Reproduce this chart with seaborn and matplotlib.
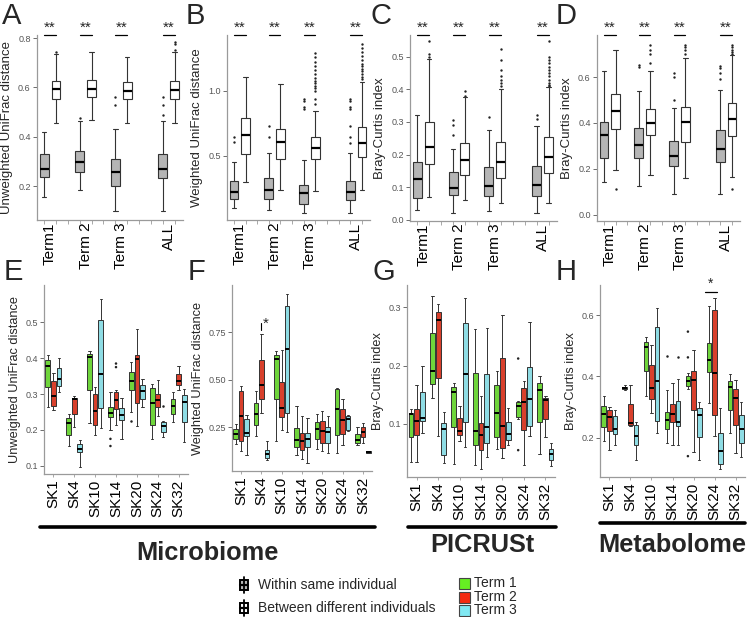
import numpy as np
import pandas as pd
import matplotlib.pyplot as plt
import seaborn as sns
from matplotlib.lines import Line2D
from matplotlib.patches import Rectangle

# ---- categories ----
groups = ['Term1', 'Term 2', 'Term 3', 'ALL']
subjects = ['SK1', 'SK4', 'SK10', 'SK14', 'SK20', 'SK24', 'SK32']
terms = ['Term 1', 'Term 2', 'Term 3']
term_colors = ['#66ee22', '#f42a10', '#80e8f2']
kind_labels = ['Within same individual', 'Between different individuals']
kind_colors = ['#b5b5b5', 'white']

# ---- top row: five-number summaries (whisker low, q1, median, q3, whisker high) ----
A_within = [[0.155, 0.235, 0.268, 0.328, 0.42], [0.185, 0.255, 0.297, 0.342, 0.462],
            [0.10, 0.198, 0.256, 0.31, 0.43], [0.10, 0.232, 0.268, 0.328, 0.462]]
A_between = [[0.455, 0.553, 0.592, 0.628, 0.735], [0.468, 0.56, 0.595, 0.632, 0.742],
             [0.455, 0.553, 0.585, 0.622, 0.725], [0.455, 0.555, 0.59, 0.628, 0.742]]
A_within_out = [[], [0.475], [0.53, 0.56], [0.49, 0.53, 0.56]]
A_between_out = [[0.745], [], [], [0.752, 0.777, 0.786]]

B_within = [[0.098, 0.169, 0.225, 0.308, 0.454], [0.085, 0.169, 0.238, 0.328, 0.525],
            [0.059, 0.131, 0.218, 0.277, 0.47], [0.063, 0.162, 0.225, 0.31, 0.525]]
B_between = [[0.297, 0.515, 0.66, 0.79, 1.11], [0.238, 0.474, 0.61, 0.705, 1.05],
             [0.231, 0.474, 0.559, 0.649, 0.846], [0.24, 0.49, 0.6, 0.725, 1.07]]
B_within_out = [[0.61, 0.649], [0.649, 0.73], [0.86, 0.879, 0.92, 0.938],
                [0.6, 0.649, 0.73, 0.86, 0.879, 0.92, 0.938]]
B_between_out = [[], [],
                 [0.9, 0.94, 1.0, 1.02, 1.04, 1.06, 1.08, 1.1, 1.13, 1.16, 1.19, 1.22, 1.26, 1.29],
                 [1.09, 1.11, 1.13, 1.15, 1.17, 1.19, 1.21, 1.24, 1.27, 1.3, 1.33, 1.36]]

C_within = [[0.03, 0.067, 0.126, 0.178, 0.32], [0.021, 0.075, 0.096, 0.146, 0.218],
            [0.027, 0.072, 0.103, 0.162, 0.276], [0.021, 0.072, 0.108, 0.166, 0.287]]
C_between = [[0.07, 0.17, 0.222, 0.3, 0.494], [0.06, 0.136, 0.182, 0.234, 0.376],
             [0.052, 0.128, 0.178, 0.238, 0.4], [0.052, 0.143, 0.192, 0.253, 0.407]]
C_within_out = [[], [0.26, 0.29, 0.305], [0.315], [0.31, 0.32]]
C_between_out = [[0.5, 0.51, 0.55], [0.38, 0.395], [0.41, 0.42, 0.43, 0.44, 0.46, 0.49, 0.525],
                 [0.41, 0.415, 0.42, 0.43, 0.44, 0.45, 0.46, 0.47, 0.48, 0.49, 0.5, 0.55]]

D_within = [[0.142, 0.247, 0.349, 0.403, 0.628], [0.124, 0.247, 0.305, 0.38, 0.54],
            [0.089, 0.21, 0.254, 0.32, 0.466], [0.089, 0.229, 0.285, 0.371, 0.546]]
D_between = [[0.196, 0.372, 0.451, 0.526, 0.718], [0.174, 0.346, 0.4, 0.463, 0.628],
             [0.161, 0.317, 0.403, 0.47, 0.682], [0.166, 0.342, 0.416, 0.488, 0.696]]
D_within_out = [[], [0.645, 0.655], [0.5, 0.6, 0.62], [0.59, 0.62, 0.64, 0.65]]
D_between_out = [[0.11], [0.66, 0.7, 0.72, 0.74], [0.7, 0.72, 0.73, 0.74],
                 [0.11, 0.7, 0.71, 0.72, 0.73, 0.74]]

# ---- bottom row: per subject, per term ----
E_term1 = [[0.263, 0.32, 0.378, 0.395, 0.41], [0.155, 0.186, 0.218, 0.232, 0.245],
           [0.218, 0.31, 0.404, 0.412, 0.42], [0.2, 0.235, 0.248, 0.265, 0.307],
           [0.25, 0.312, 0.335, 0.362, 0.39], [0.175, 0.214, 0.274, 0.318, 0.328],
           [0.222, 0.245, 0.267, 0.285, 0.305]]
E_term2 = [[0.255, 0.268, 0.294, 0.336, 0.358], [0.208, 0.245, 0.285, 0.288, 0.295],
           [0.186, 0.213, 0.253, 0.3, 0.32], [0.215, 0.257, 0.282, 0.305, 0.31],
           [0.21, 0.276, 0.398, 0.41, 0.48], [0.238, 0.265, 0.283, 0.3, 0.34],
           [0.31, 0.325, 0.336, 0.357, 0.377]]
E_term3 = [[0.305, 0.322, 0.342, 0.373, 0.4], [0.097, 0.137, 0.148, 0.162, 0.172],
           [0.205, 0.26, 0.355, 0.507, 0.565], [0.175, 0.228, 0.242, 0.262, 0.288],
           [0.265, 0.287, 0.308, 0.325, 0.342], [0.18, 0.195, 0.21, 0.223, 0.225],
           [0.165, 0.222, 0.278, 0.296, 0.315]]
E_out = [('SK14', 'Term 1', 0.175), ('SK14', 'Term 1', 0.155), ('SK14', 'Term 2', 0.375),
         ('SK14', 'Term 2', 0.385), ('SK20', 'Term 1', 0.226), ('SK24', 'Term 3', 0.267)]

F_term1 = [[0.16, 0.19, 0.215, 0.24, 0.265], [0.207, 0.264, 0.322, 0.379, 0.44],
           [0.18, 0.397, 0.608, 0.63, 0.653], [0.102, 0.149, 0.185, 0.246, 0.361],
           [0.135, 0.188, 0.241, 0.276, 0.322], [0.117, 0.211, 0.347, 0.453, 0.458],
           [0.158, 0.167, 0.181, 0.215, 0.25]]
F_term2 = [[0.123, 0.176, 0.308, 0.44, 0.47], [0.326, 0.4, 0.472, 0.605, 0.741],
           [0.238, 0.303, 0.352, 0.488, 0.656], [0.082, 0.132, 0.18, 0.22, 0.312],
           [0.123, 0.17, 0.232, 0.285, 0.335], [0.158, 0.216, 0.287, 0.347, 0.397],
           [0.167, 0.197, 0.223, 0.25, 0.273]]
F_term3 = [[0.105, 0.202, 0.22, 0.294, 0.317], [0.078, 0.087, 0.108, 0.132, 0.18],
           [0.223, 0.326, 0.665, 0.891, 0.953], [0.061, 0.144, 0.19, 0.22, 0.3],
           [0.114, 0.17, 0.223, 0.252, 0.308], [0.229, 0.234, 0.294, 0.308, 0.317],
           [0.114, 0.116, 0.121, 0.126, 0.128]]
F_out = []

G_term1 = [[0.035, 0.077, 0.117, 0.119, 0.125], [0.144, 0.168, 0.191, 0.255, 0.319],
           [0.031, 0.094, 0.155, 0.163, 0.17], [0.03, 0.064, 0.087, 0.188, 0.262],
           [0.057, 0.077, 0.118, 0.167, 0.19], [0.108, 0.111, 0.13, 0.138, 0.14],
           [0.049, 0.103, 0.158, 0.17, 0.182]]
G_term2 = [[0.034, 0.081, 0.105, 0.125, 0.167], [0.079, 0.178, 0.278, 0.291, 0.306],
           [0.071, 0.081, 0.088, 0.11, 0.13], [0.022, 0.055, 0.081, 0.101, 0.148],
           [0.041, 0.058, 0.096, 0.213, 0.287], [0.03, 0.089, 0.138, 0.161, 0.173],
           [0.078, 0.108, 0.141, 0.144, 0.148]]
G_term3 = [[0.085, 0.105, 0.11, 0.155, 0.199], [0.033, 0.047, 0.091, 0.101, 0.121],
           [0.06, 0.104, 0.186, 0.273, 0.315], [0.043, 0.068, 0.095, 0.186, 0.264],
           [0.064, 0.073, 0.083, 0.104, 0.127], [0.079, 0.097, 0.142, 0.198, 0.274],
           [0.027, 0.038, 0.049, 0.057, 0.068]]
G_out = [('SK24', 'Term 1', 0.212), ('SK24', 'Term 1', 0.055)]

H_term1 = [[0.19, 0.234, 0.277, 0.304, 0.336], [0.355, 0.358, 0.363, 0.366, 0.372],
           [0.336, 0.417, 0.497, 0.513, 0.527], [0.184, 0.227, 0.258, 0.285, 0.355],
           [0.358, 0.368, 0.386, 0.401, 0.41], [0.312, 0.415, 0.455, 0.508, 0.629],
           [0.216, 0.29, 0.364, 0.386, 0.408]]
H_term2 = [[0.16, 0.223, 0.268, 0.292, 0.301], [0.238, 0.241, 0.247, 0.309, 0.372],
           [0.281, 0.325, 0.363, 0.437, 0.502], [0.176, 0.252, 0.277, 0.309, 0.379],
           [0.154, 0.292, 0.388, 0.417, 0.486], [0.205, 0.274, 0.412, 0.618, 0.654],
           [0.151, 0.241, 0.328, 0.358, 0.388]]
H_term3 = [[0.176, 0.212, 0.23, 0.272, 0.292], [0.129, 0.176, 0.207, 0.241, 0.252],
           [0.214, 0.255, 0.386, 0.562, 0.622], [0.176, 0.238, 0.252, 0.32, 0.39],
           [0.129, 0.203, 0.274, 0.296, 0.317], [0.097, 0.116, 0.158, 0.216, 0.296],
           [0.136, 0.184, 0.23, 0.274, 0.317]]
H_out = [('SK14', 'Term 1', 0.467), ('SK14', 'Term 3', 0.463), ('SK20', 'Term 1', 0.546),
         ('SK20', 'Term 1', 0.462), ('SK20', 'Term 1', 0.14)]

# ---- layout ----
W, H = 750, 617
top_base = [0, 3, 6, 10]  # x slot of each group pair


def rect(l, r, t, b):
    return [l / W, 1 - b / H, (r - l) / W, (b - t) / H]


def fx(x):
    return x / W


def fy(y):
    return 1 - y / H


sns.set_style('ticks')
plt.rcParams['font.family'] = ['Liberation Sans', 'DejaVu Sans']

fig = plt.figure(figsize=(7.5, 6.17), dpi=100)

EDGE = '#333333'
SPINE = '#9a9a9a'


def style_axes(ax):
    sns.despine(ax=ax)
    for s in ['left', 'bottom']:
        ax.spines[s].set_color(SPINE)
        ax.spines[s].set_linewidth(0.9)
    ax.tick_params(axis='y', colors='#555555', labelsize=6.5, length=3, width=0.6, pad=1.5)
    ax.tick_params(axis='x', colors=SPINE, labelcolor='black', labelsize=11, pad=2)


def top_panel(ax, within, between, w_out, b_out, ylim, yticks, ylabel, fmt):
    rows, out = [], []
    for i, g in enumerate(groups):
        rows += [(top_base[i], 'within', v) for v in within[i]]
        rows += [(top_base[i] + 1, 'between', v) for v in between[i]]
        out += [(top_base[i], v) for v in w_out[i]]
        out += [(top_base[i] + 1, v) for v in b_out[i]]
    df = pd.DataFrame(rows, columns=['pos', 'kind', 'val'])
    sns.boxplot(data=df, x='pos', y='val', hue='kind', native_scale=True, dodge=False,
                width=0.75, whis=(0, 100),
                palette={'within': kind_colors[0], 'between': kind_colors[1]},
                linecolor=EDGE, linewidth=0.8, legend=False, ax=ax,
                medianprops=dict(color='black', linewidth=1.6))
    if out:
        odf = pd.DataFrame(out, columns=['pos', 'val'])
        sns.scatterplot(data=odf, x='pos', y='val', color='#222222', s=3, linewidth=0,
                        legend=False, ax=ax)
    ax.set_xlim(-0.6, 11.7)
    ax.set_ylim(*ylim)
    ax.set_yticks(yticks)
    ax.set_yticklabels([fmt.format(t) for t in yticks])
    ax.set_xticks([b + 0.5 for b in top_base])
    ax.set_xticklabels(groups, rotation=90)
    ax.set_xticks(np.arange(0, 12), minor=True)
    ax.set_xlabel('')
    ax.set_ylabel(ylabel, fontsize=9.5, labelpad=4)
    style_axes(ax)
    ax.tick_params(axis='x', which='major', length=0)
    ax.tick_params(axis='x', which='minor', length=3, width=0.6, colors=SPINE)
    tr = ax.get_xaxis_transform()
    for b in top_base:
        ax.plot([b, b + 1], [1.0, 1.0], color='black', lw=0.9, transform=tr, clip_on=False)
        ax.text(b + 0.5, 1.0, '**', transform=tr, ha='center', va='bottom',
                fontsize=11, clip_on=False)


def bottom_panel(ax, t1, t2, t3, out, ylim, yticks, ylabel, fmt):
    rows = []
    for tname, data in zip(terms, [t1, t2, t3]):
        for s, five in zip(subjects, data):
            rows += [(s, tname, v) for v in five]
    df = pd.DataFrame(rows, columns=['subject', 'term', 'val'])
    sns.boxplot(data=df, x='subject', y='val', hue='term', order=subjects, hue_order=terms,
                palette=term_colors, width=0.8, gap=0.15, whis=(0, 100),
                linecolor=EDGE, linewidth=0.7, legend=False, ax=ax,
                medianprops=dict(color='black', linewidth=1.4))
    if out:
        odf = pd.DataFrame(out, columns=['subject', 'term', 'val'])
        sns.stripplot(data=odf, x='subject', y='val', hue='term', order=subjects,
                      hue_order=terms, dodge=True, jitter=False, palette=['#222222'] * 3,
                      size=1.8, linewidth=0, legend=False, ax=ax)
    ax.set_xlim(-0.45, 6.45)
    ax.set_ylim(*ylim)
    ax.set_yticks(yticks)
    ax.set_yticklabels([fmt.format(t) for t in yticks])
    ax.set_xticks(range(len(subjects)))
    ax.set_xticklabels(subjects, rotation=90)
    ax.set_xlabel('')
    ax.set_ylabel(ylabel, fontsize=9.2, labelpad=3)
    style_axes(ax)
    ax.tick_params(axis='x', length=2, width=0.6)


axA = fig.add_axes(rect(37, 183, 35, 220))
top_panel(axA, A_within, A_between, A_within_out, A_between_out, (0.062, 0.813),
          [0.2, 0.4, 0.6, 0.8], 'Unweighted UniFrac distance', '{:.1f}')
axB = fig.add_axes(rect(227, 370, 35, 220))
top_panel(axB, B_within, B_between, B_within_out, B_between_out, (0.008, 1.43),
          [0.5, 1.0], 'Weighted UniFrac distance', '{:.1f}')
axC = fig.add_axes(rect(410, 557, 35, 221))
top_panel(axC, C_within, C_between, C_within_out, C_between_out, (-0.004, 0.567),
          [0.0, 0.1, 0.2, 0.3, 0.4, 0.5], 'Bray-Curtis index', '{:.1f}')
axD = fig.add_axes(rect(597, 740, 35, 221))
top_panel(axD, D_within, D_between, D_within_out, D_between_out, (-0.028, 0.784),
          [0.0, 0.2, 0.4, 0.6], 'Bray-Curtis index', '{:.1f}')

axE = fig.add_axes(rect(44, 188, 285, 474))
bottom_panel(axE, E_term1, E_term2, E_term3, E_out, (0.077, 0.604),
             [0.1, 0.2, 0.3, 0.4, 0.5], 'Unweighted UniFrac distance', '{:.1f}')
axF = fig.add_axes(rect(232, 372, 285, 471))
bottom_panel(axF, F_term1, F_term2, F_term3, F_out, (0.02, 1.0),
             [0.25, 0.5, 0.75], 'Weighted UniFrac distance', '{:.2f}')
axG = fig.add_axes(rect(407, 555, 285, 477))
bottom_panel(axG, G_term1, G_term2, G_term3, G_out, (0.009, 0.338),
             [0.1, 0.2, 0.3], 'Bray-Curtis index', '{:.1f}')
axH = fig.add_axes(rect(600, 745, 285, 477))
bottom_panel(axH, H_term1, H_term2, H_term3, H_out, (0.072, 0.698),
             [0.2, 0.4, 0.6], 'Bray-Curtis index', '{:.1f}')

# significance marks in bottom row
axF.plot([1.0, 1.0], [0.765, 0.80], color='black', lw=0.8, clip_on=False)
axF.text(1.2, 0.76, '*', ha='center', va='bottom', fontsize=11)
axH.plot([5 - 0.45, 5 + 0.1], [0.675, 0.675], color='black', lw=0.9, clip_on=False)
axH.text(5 - 0.2, 0.68, '*', ha='center', va='bottom', fontsize=10, clip_on=False)

# panel letters
for letter, (x, y) in zip('ABCDEFGH', [(2, 2), (186, 2), (371, 2), (556, 2),
                                       (4, 258), (188, 258), (372, 258), (556, 258)]):
    fig.text(fx(x), fy(y), letter, fontsize=21, ha='left', va='top')

# data-type brackets
for (x0, x1, y), name, ty in [((40, 375, 527), 'Microbiome', 553),
                              ((408, 556, 527), 'PICRUSt', 545),
                              ((600, 745, 523), 'Metabolome', 545)]:
    fig.add_artist(Line2D([fx(x0), fx(x1)], [fy(y)] * 2, color='black', lw=2.6))
    fig.text(fx((x0 + x1) / 2), fy(ty), name, ha='center', va='center',
             fontsize=18.3, fontweight='bold')

# legend: sample pairing (box glyphs)
for (label, fc), yc in zip(zip(kind_labels, kind_colors), [585, 608]):
    fig.add_artist(Line2D([fx(244)] * 2, [fy(yc - 8), fy(yc + 8)], color='black', lw=1.3))
    fig.add_artist(Rectangle((fx(240), fy(yc + 5)), 8 / W, 10 / H, facecolor=fc,
                             edgecolor='black', lw=1.4))
    fig.add_artist(Line2D([fx(240), fx(248)], [fy(yc)] * 2, color='black', lw=1.6))
    fig.text(fx(258), fy(yc), label, ha='left', va='center', fontsize=10)

# legend: terms
for t, c, yc in zip(terms, term_colors, [583, 597, 610]):
    fig.add_artist(Rectangle((fx(459), fy(yc + 5.5)), 11 / W, 11 / H, facecolor=c,
                             edgecolor='#444444', lw=0.8))
    fig.text(fx(474), fy(yc), t, ha='left', va='center', fontsize=10)

fig.savefig('out.png', dpi=100)
